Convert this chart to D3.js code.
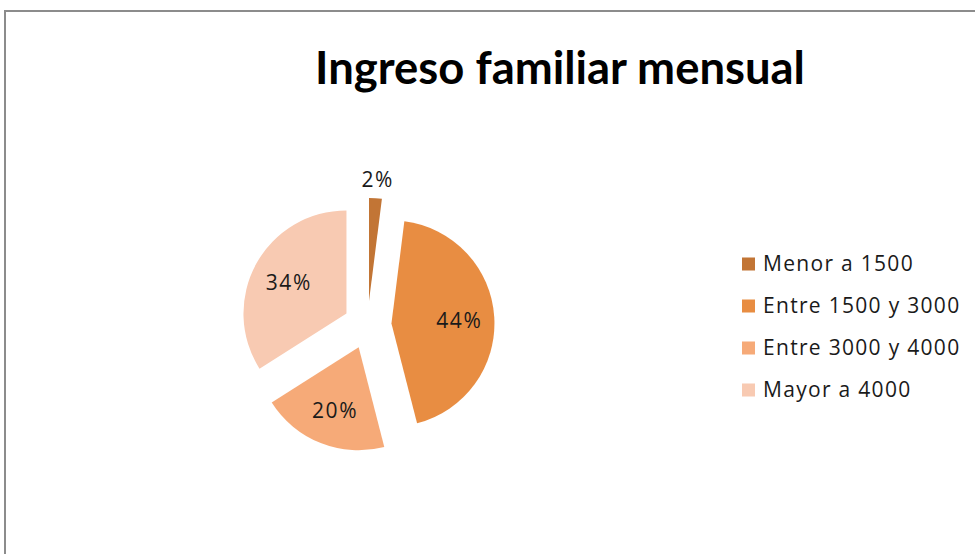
<!DOCTYPE html>
<html>
<head>
<meta charset="utf-8">
<script src="https://cdn.jsdelivr.net/npm/d3@7"></script>
<style>
  html, body { margin: 0; padding: 0; background: #fff; }
  svg { display: block; }
</style>
</head>
<body>
<svg id="chart" width="975" height="554"></svg>
<script>
const title = "Ingreso familiar mensual";
const categories = ["Menor a 1500", "Entre 1500 y 3000", "Entre 3000 y 4000", "Mayor a 4000"];
const values = [2, 44, 20, 34];
const colors = ["#C27535", "#E88D42", "#F6AA78", "#F8CAB2"];

const svg = d3.select("#chart");
const W = 975, H = 554;
const font = "Lato, 'Open Sans', sans-serif";
const font2 = "'Open Sans', Lato, sans-serif";

// chart area border
svg.append("rect")
  .attr("x", 5).attr("y", 11)
  .attr("width", W + 10).attr("height", H + 10)
  .attr("fill", "#fff").attr("stroke", "#8c8c8c").attr("stroke-width", 2);

// title
const t = svg.append("text")
  .attr("x", 560).attr("y", 84)
  .attr("text-anchor", "middle")
  .attr("font-family", font)
  .attr("font-weight", "bold")
  .attr("font-size", 46)
  .attr("fill", "#000")
  .text(title);
const tw = t.node().getComputedTextLength();
if (tw > 0) t.attr("font-size", 46 * 490 / tw);

// pie
const cx = 367.5, cy = 325, R = 103, explode = 24;
const pie = d3.pie().sort(null).value(d => d)(values);
const arc = d3.arc().innerRadius(0).outerRadius(R);
const g = svg.append("g").attr("transform", `translate(${cx},${cy})`);

const slices = g.selectAll("g.slice").data(pie).enter().append("g")
  .attr("class", "slice")
  .attr("transform", d => {
    const a = (d.startAngle + d.endAngle) / 2;
    return `translate(${Math.sin(a) * explode},${-Math.cos(a) * explode})`;
  });

slices.append("path")
  .attr("d", arc)
  .attr("fill", (d, i) => colors[i]);

slices.append("text")
  .attr("transform", d => {
    const a = (d.startAngle + d.endAngle) / 2;
    const small = (d.endAngle - d.startAngle) < 0.3;
    const lr = small ? R + 20 : R * 0.65;
    return `translate(${Math.sin(a) * lr + 1},${-Math.cos(a) * lr})`;
  })
  .attr("text-anchor", "middle")
  .attr("dy", "0.42em")
  .attr("font-family", font2)
  .attr("font-size", 21)
  .attr("letter-spacing", 1.6)
  .attr("fill", "#1a1a1a")
  .text(d => d.value + "%");

// legend
const legend = svg.append("g").attr("transform", "translate(742,264)");
const items = legend.selectAll("g").data(categories).enter().append("g")
  .attr("transform", (d, i) => `translate(0,${i * 42})`);
items.append("rect")
  .attr("x", 0).attr("y", -6.5).attr("width", 13).attr("height", 13)
  .attr("fill", (d, i) => colors[i]);
items.append("text")
  .attr("x", 21).attr("y", 0).attr("dy", "0.35em")
  .attr("font-family", font2)
  .attr("font-size", 21)
  .attr("letter-spacing", 1.3)
  .attr("fill", "#1a1a1a")
  .text(d => d);
</script>
</body>
</html>
